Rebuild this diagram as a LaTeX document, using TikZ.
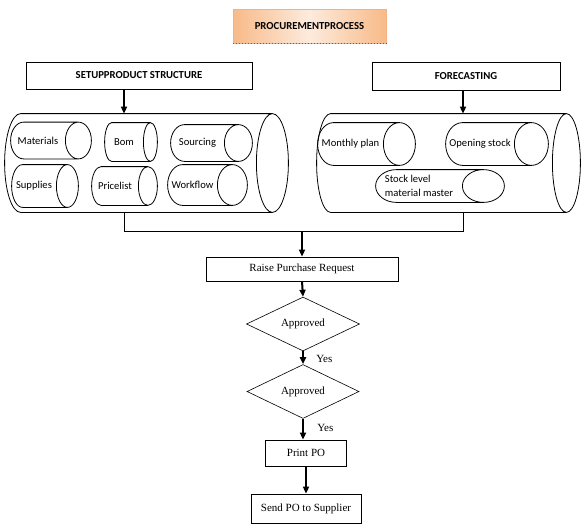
\documentclass[tikz,border=0pt]{standalone}
\usepackage{fontspec}
\setmainfont{Liberation Serif}
\newfontfamily\calibri{Carlito}
\usetikzlibrary{calc,positioning,arrows.meta,shapes.geometric}
\definecolor{peachdark}{HTML}{F8BA88}
\definecolor{peachlight}{HTML}{FDEBDD}
\definecolor{peachline}{HTML}{F4B183}

% outline of a lying cylinder round the body node #1, end radius #2
\newcommand\tube[2]{%
  \draw let \p1=(#1.north west), \p2=(#1.south east) in
    ({\x2+#2pt},\y1) -- ({\x1+#2pt},\y1)
      arc[start angle=90,end angle=270,x radius=#2pt,y radius={0.5*(\y1-\y2)}]
      -- ({\x2+#2pt},\y2)
    ({\x2+#2pt},{0.5*(\y1+\y2)}) ellipse[x radius=#2pt,y radius={0.5*(\y1-\y2)}];
}

\begin{document}
\begin{tikzpicture}[x=1pt,y=-1pt,line width=.8pt,
  head/.style={draw,rectangle,inner sep=0pt,font=\calibri\fontsize{10.7}{12}\bfseries\selectfont},
  can/.style={rectangle,inner sep=0pt,font=\calibri\fontsize{10.6}{14}\selectfont},
  step box/.style={draw,rectangle,inner sep=0pt,font=\fontsize{11}{12}\selectfont},
  ask/.style={draw,diamond,inner sep=0pt,line width=.6pt,font=\fontsize{11}{12}\selectfont},
  arr/.style={line width=2pt,-{Triangle[length=7pt,width=6pt]}}]
  \useasboundingbox (0,0) rectangle (586,531);

  % title
  \node[draw=peachline,shading angle=60,left color=peachdark,right color=peachdark,middle color=peachlight,
        minimum width=153pt,minimum height=34pt,font=\calibri\fontsize{10.7}{12}\bfseries\selectfont] (title) at (309.5,26) {PROCUREMENTPROCESS};
  \draw[dotted,line width=1pt,brown!70!black] (title.south west) -- (title.south east);

  % heads
  \node[head,minimum width=226pt,minimum height=27pt] (setup) at (139,75.5) {SETUPPRODUCT STRUCTURE};
  \node[head,minimum width=188pt,minimum height=28pt] (fc) at (466,76) {FORECASTING};

  % big cylinders
  \node[can,minimum width=251pt,minimum height=98pt] (left) at (130.5,163) {};
  \node[can,minimum width=235pt,minimum height=98pt] (right) at (434.5,163) {};

  % left items
  \node[can,minimum width=54pt,minimum height=36pt] (mat) at (38,140.5) {Materials};
  \node[can,minimum width=38pt,minimum height=38pt] (bom) at (124,142) {Bom};
  \node[can,minimum width=53pt,minimum height=36pt] (src) at (197.5,143) {Sourcing};
  \node[can,minimum width=44pt,minimum height=42pt] (sup) at (34,186) {Supplies};
  \node[can,minimum width=46pt,minimum height=38pt] (price) at (115,186) {Pricelist};
  \node[can,minimum width=49pt,minimum height=40pt] (work) at (192.5,185) {Workflow};

  % right items
  \node[can,minimum width=65pt,minimum height=42pt] (plan) at (350.5,144) {Monthly plan};
  \node[can,minimum width=68pt,minimum height=42pt] (open) at (480,144) {Opening stock};
  \node[can,minimum width=86pt,minimum height=32pt,align=left] (level) at (419,186) {Stock level\\material master};

  \foreach \cname/\crad in {left/16,right/14,mat/13,bom/7,src/14,sup/11,price/9.5,work/15,plan/16,open/17,level/21}
    \tube{\cname}{\crad};

  % flow
  \node[step box,minimum width=192pt,minimum height=24pt] (raise) at (302,269) {Raise Purchase Request};
  \node[ask,minimum width=113pt,minimum height=48pt] (ok1) at (303,324) {Approved};
  \node[ask,minimum width=112pt,minimum height=39pt] (ok2) at (303,391.5) {Approved};
  \node[step box,minimum width=81pt,minimum height=26pt] (print) at (306,453) {Print PO};
  \node[step box,minimum width=110pt,minimum height=29pt] (send) at (306,508.5) {Send PO to Supplier};

  \coordinate (jl) at (124,231);
  \coordinate (jr) at (463,231);

  \draw[arr] (setup.south -| jl) -- (left.north -| jl);
  \draw[arr] (fc.south -| jr) -- (right.north -| jr);
  \draw (left.south -| jl) -- (jl) -- (jr) -- (right.south -| jr);
  \draw[arr] (raise.north |- jl) -- (raise.north);
  \draw[arr] (raise.south) -- (ok1.north);
  \draw[arr] (ok1.south) -- node[pos=.6,right=9pt,font=\fontsize{11}{12}\selectfont] (yes1) {Yes} (ok2.north);
  \draw[arr] (ok2.south) -- node[pos=.45,right=10pt,font=\fontsize{11}{12}\selectfont] (yes2) {Yes} (ok2.south |- print.north);
  \draw[arr] (print.south) -- (send.north);
\end{tikzpicture}
\end{document}
